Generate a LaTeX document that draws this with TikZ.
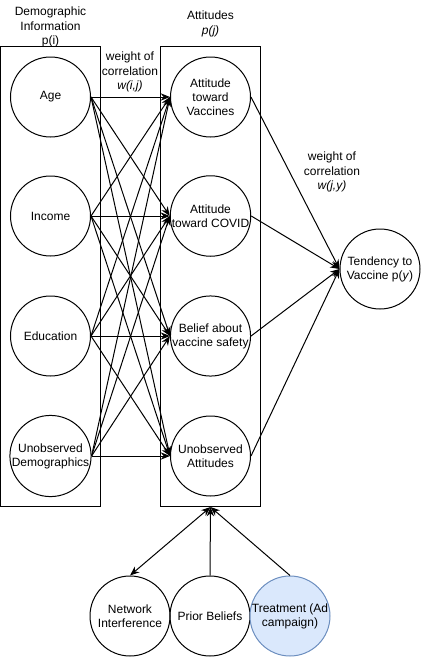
\documentclass[tikz,border=0pt]{standalone}
\usepackage{fontspec}
\setmainfont{Liberation Sans}
\usetikzlibrary{arrows.meta}

\tikzset{every picture/.style={line width=0.75pt}}
\tikzset{
  varnode/.style={draw, circle, minimum size=60pt, inner sep=0pt, align=center, font=\fontsize{9}{10.5}\selectfont},
  groupbox/.style={draw, rectangle, minimum width=75pt, minimum height=345pt, inner sep=0pt},
  txt/.style={align=center, font=\fontsize{9}{10.8}\selectfont},
  link/.style={-{Stealth[length=7pt,width=5.5pt]}}
}

\begin{document}
\begin{tikzpicture}[x=0.75pt,y=0.75pt,yscale=-1,xscale=1]
\useasboundingbox (0,0) rectangle (421,657);

%Shape: Rectangle [id:demobox]
\node [groupbox] (demobox) at (50.5,276.5) {};
%Shape: Rectangle [id:attbox]
\node [groupbox] (attbox) at (210.5,276.5) {};

%Shape: Circle [id:age]
\node [varnode] (age) at (50.5,97) {Age};
%Shape: Circle [id:income]
\node [varnode] (income) at (50.5,216) {Income};
%Shape: Circle [id:edu]
\node [varnode] (edu) at (50.5,336) {Education};
%Shape: Circle [id:undem]
\node [varnode] (undem) at (50.5,456) {Unobserved\\Demographics};

%Shape: Circle [id:attvac]
\node [varnode] (attvac) at (210.5,97) {Attitude\\toward\\Vaccines};
%Shape: Circle [id:attcov]
\node [varnode] (attcov) at (210.5,216) {Attitude\\toward COVID};
%Shape: Circle [id:belief]
\node [varnode] (belief) at (210.5,336) {Belief about\\vaccine safety};
%Shape: Circle [id:unatt]
\node [varnode] (unatt) at (210.5,456) {Unobserved\\Attitudes};

%Shape: Circle [id:tend]
\node [varnode] (tend) at (380,269) {Tendency to\\Vaccine p(\textit{y})};

%Shape: Circle [id:netw]
\node [varnode] (netw) at (130,616) {Network\\Interference};
%Shape: Circle [id:prior]
\node [varnode] (prior) at (210,616) {Prior Beliefs};
%Shape: Circle [id:treat]
\node [varnode, draw={rgb, 255:red, 108; green, 142; blue, 191 }, fill={rgb, 255:red, 218; green, 232; blue, 252 }] (treat) at (290,616) {Treatment (Ad\\campaign)};

%Straight Lines [id:age]
\draw [link] (age.east) -- (attvac.west);
\draw [link] (age.east) -- (attcov.west);
\draw [link] (age.east) -- (belief.west);
\draw [link] (age.east) -- (unatt.west);
%Straight Lines [id:income]
\draw [link] (income.east) -- (attvac.west);
\draw [link] (income.east) -- (attcov.west);
\draw [link] (income.east) -- (belief.west);
\draw [link] (income.east) -- (unatt.west);
%Straight Lines [id:edu]
\draw [link] (edu.east) -- (attvac.west);
\draw [link] (edu.east) -- (attcov.west);
\draw [link] (edu.east) -- (belief.west);
\draw [link] (edu.east) -- (unatt.west);
%Straight Lines [id:undem]
\draw [link] (undem.east) -- (attvac.west);
\draw [link] (undem.east) -- (attcov.west);
\draw [link] (undem.east) -- (belief.west);
\draw [link] (undem.east) -- (unatt.west);

%Straight Lines [id:tend]
\draw [link] (attvac.east) -- (tend.west);
\draw [link] (attcov.east) -- (tend.west);
\draw [link] (belief.east) -- (tend.west);
\draw [link] (unatt.east) -- (tend.west);

%Straight Lines [id:bottom]
\draw [{Stealth[length=7pt,width=5.5pt]}-{Stealth[length=7pt,width=5.5pt]}] (netw.north) -- (attbox.south);
\draw [link] (prior.north) -- (attbox.south);
\draw [link] (treat.north) -- (attbox.south);

% Text Node
\node [txt] (demotitle) at (50.5,27) {Demographic\\Information\\p(i)};
% Text Node
\node [txt] (atttitle) at (210.5,24) {Attitudes\\\textit{p(j)}};
% Text Node
\node [txt] (wij) at (130,72) {weight of\\correlation\\\textit{w(i,j)}};
% Text Node
\node [txt] (wjy) at (332,172) {weight of\\correlation\\\textit{w(j,y)}};

\end{tikzpicture}
\end{document}
